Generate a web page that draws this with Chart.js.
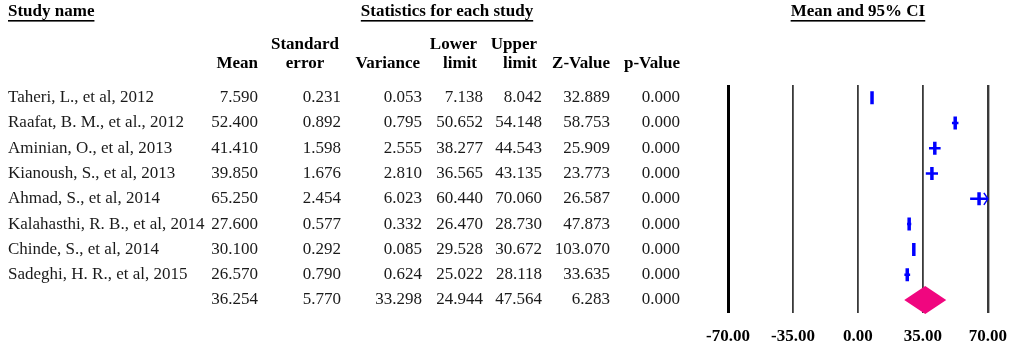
<!DOCTYPE html>
<html>
<head>
<meta charset="utf-8">
<script src="https://cdn.jsdelivr.net/npm/chart.js@4.4.1/dist/chart.umd.min.js"></script>
<style>
  body { margin: 0; background: #fff; }
  #wrap { width: 1021px; height: 350px; }
</style>
</head>
<body>
<div id="wrap"><canvas id="myChart"></canvas></div>
<script>
var studies = [
  'Taheri, L., et al, 2012',
  'Raafat, B. M., et al., 2012',
  'Aminian, O., et al, 2013',
  'Kianoush, S., et al, 2013',
  'Ahmad, S., et al, 2014',
  'Kalahasthi, R. B., et al, 2014',
  'Chinde, S., et al, 2014',
  'Sadeghi, H. R., et al, 2015'
];
var means = [7.590, 52.400, 41.410, 39.850, 65.250, 27.600, 30.100, 26.570];
var stdErrors = [0.231, 0.892, 1.598, 1.676, 2.454, 0.577, 0.292, 0.790];
var variances = [0.053, 0.795, 2.555, 2.810, 6.023, 0.332, 0.085, 0.624];
var lowerLimits = [7.138, 50.652, 38.277, 36.565, 60.440, 26.470, 29.528, 25.022];
var upperLimits = [8.042, 54.148, 44.543, 43.135, 70.060, 28.730, 30.672, 28.118];
var zValues = [32.889, 58.753, 25.909, 23.773, 26.587, 47.873, 103.070, 33.635];
var pValues = [0.000, 0.000, 0.000, 0.000, 0.000, 0.000, 0.000, 0.000];

// pooled result (last row)
var summaryStats = [36.254, 5.770, 33.298, 24.944, 47.564, 6.283, 0.000];
var xTicks = [-70, -35, 0, 35, 70];

var BLUE = '#0000ff';
var serif = "'Liberation Serif', 'Times New Roman', serif";

var datasets = studies.map(function (name, i) {
  return {
    label: name,
    data: [{ x: lowerLimits[i], y: i }, { x: upperLimits[i], y: i }],
    showLine: true,
    borderColor: BLUE,
    borderWidth: 2.5,
    pointRadius: 0
  };
});
datasets.push({
  label: 'Mean',
  data: means.map(function (m, i) { return { x: m, y: i }; }),
  showLine: false,
  pointStyle: 'line',
  rotation: 90,
  radius: 6.5,
  borderWidth: 3.5,
  borderColor: BLUE,
  backgroundColor: BLUE
});

function underline(ctx, text, x, y, align) {
  var w = ctx.measureText(text).width;
  var left = align === 'center' ? x - w / 2 : x;
  ctx.fillRect(left, y + 8, w, 1.6);
}

var tablePlugin = {
  id: 'table',
  afterDraw: function (chart) {
    var ctx = chart.ctx;
    var ys = chart.scales.y;
    var xs = chart.scales.x;
    ctx.save();
    ctx.textBaseline = 'middle';
    ctx.fillStyle = '#000';

    // top headings
    ctx.font = 'bold 17px ' + serif;
    ctx.textAlign = 'left';
    ctx.fillText('Study name', 8, 12);
    underline(ctx, 'Study name', 8, 12, 'left');
    ctx.textAlign = 'center';
    ctx.fillText('Statistics for each study', 447, 12);
    underline(ctx, 'Statistics for each study', 447, 12, 'center');
    var mid = (xs.left + xs.right) / 2;
    ctx.fillText('Mean and 95% CI', mid, 12);
    underline(ctx, 'Mean and 95% CI', mid, 12, 'center');

    // column headings
    ctx.fillText('Standard', 305, 45);
    ctx.fillText('error', 305, 64);
    ctx.textAlign = 'right';
    ctx.fillText('Mean', 258, 64);
    ctx.fillText('Variance', 420, 64);
    ctx.fillText('Lower', 477, 45);
    ctx.fillText('limit', 477, 64);
    ctx.fillText('Upper', 537, 45);
    ctx.fillText('limit', 537, 64);
    ctx.fillText('Z-Value', 610, 64);
    ctx.fillText('p-Value', 680, 64);

    // rows
    var cols = [
      { vals: means, right: 258 },
      { vals: stdErrors, right: 341 },
      { vals: variances, right: 422 },
      { vals: lowerLimits, right: 483 },
      { vals: upperLimits, right: 542 },
      { vals: zValues, right: 610 },
      { vals: pValues, right: 680 }
    ];
    ctx.font = '17px ' + serif;
    ctx.fillStyle = '#1a1a1a';
    studies.forEach(function (name, i) {
      var y = ys.getPixelForValue(i);
      ctx.textAlign = 'left';
      ctx.fillText(name, 8, y);
      ctx.textAlign = 'right';
      cols.forEach(function (c) {
        ctx.fillText(c.vals[i].toFixed(3), c.right, y);
      });
    });
    var sy = ys.getPixelForValue(studies.length);
    cols.forEach(function (c, k) {
      ctx.fillText(summaryStats[k].toFixed(3), c.right, sy);
    });
    ctx.restore();
  }
};

var diamondPlugin = {
  id: 'diamond',
  afterDatasetsDraw: function (chart) {
    var ctx = chart.ctx;
    var xs = chart.scales.x;
    var ys = chart.scales.y;
    var cy = ys.getPixelForValue(studies.length);
    ctx.save();
    ctx.fillStyle = '#f0067f';
    ctx.beginPath();
    ctx.moveTo(xs.getPixelForValue(summaryStats[3]), cy);
    ctx.lineTo(xs.getPixelForValue(summaryStats[0]), cy - 14);
    ctx.lineTo(xs.getPixelForValue(summaryStats[4]), cy);
    ctx.lineTo(xs.getPixelForValue(summaryStats[0]), cy + 14);
    ctx.closePath();
    ctx.fill();

    // arrow where the interval runs off the scale
    ctx.strokeStyle = BLUE;
    ctx.lineWidth = 1.5;
    upperLimits.forEach(function (u, i) {
      if (u > xs.max) {
        var ax = xs.getPixelForValue(xs.max);
        var ay = ys.getPixelForValue(i);
        ctx.beginPath();
        ctx.moveTo(ax - 4, ay - 6);
        ctx.lineTo(ax, ay);
        ctx.lineTo(ax - 4, ay + 6);
        ctx.stroke();
      }
    });
    ctx.restore();
  }
};

var ctx = document.getElementById('myChart').getContext('2d');
var myChart = new Chart(ctx, {
  type: 'scatter',
  data: { datasets: datasets },
  options: {
    responsive: true,
    maintainAspectRatio: false,
    animation: false,
    layout: { padding: { left: 728, right: 33, top: 85, bottom: -11 } },
    plugins: {
      legend: { display: false },
      tooltip: { enabled: false }
    },
    scales: {
      x: {
        type: 'linear',
        min: xTicks[0],
        max: xTicks[xTicks.length - 1],
        afterBuildTicks: function (scale) {
          scale.ticks = xTicks.map(function (v) { return { value: v }; });
        },
        border: { display: false },
        grid: {
          drawTicks: false,
          color: function (c) { return c.index === 0 ? '#000' : '#3a3a3a'; },
          lineWidth: function (c) {
            if (c.index === 0) return 3;
            if (c.index === xTicks.length - 1) return 2.4;
            return 1.8;
          }
        },
        ticks: {
          padding: 14,
          color: '#000',
          font: { family: serif, size: 17, weight: 'bold' },
          callback: function (v) { return Number(v).toFixed(2); }
        }
      },
      y: {
        display: false,
        reverse: true,
        min: -0.5,
        max: studies.length + 0.5
      }
    }
  },
  plugins: [tablePlugin, diamondPlugin]
});
</script>
</body>
</html>
